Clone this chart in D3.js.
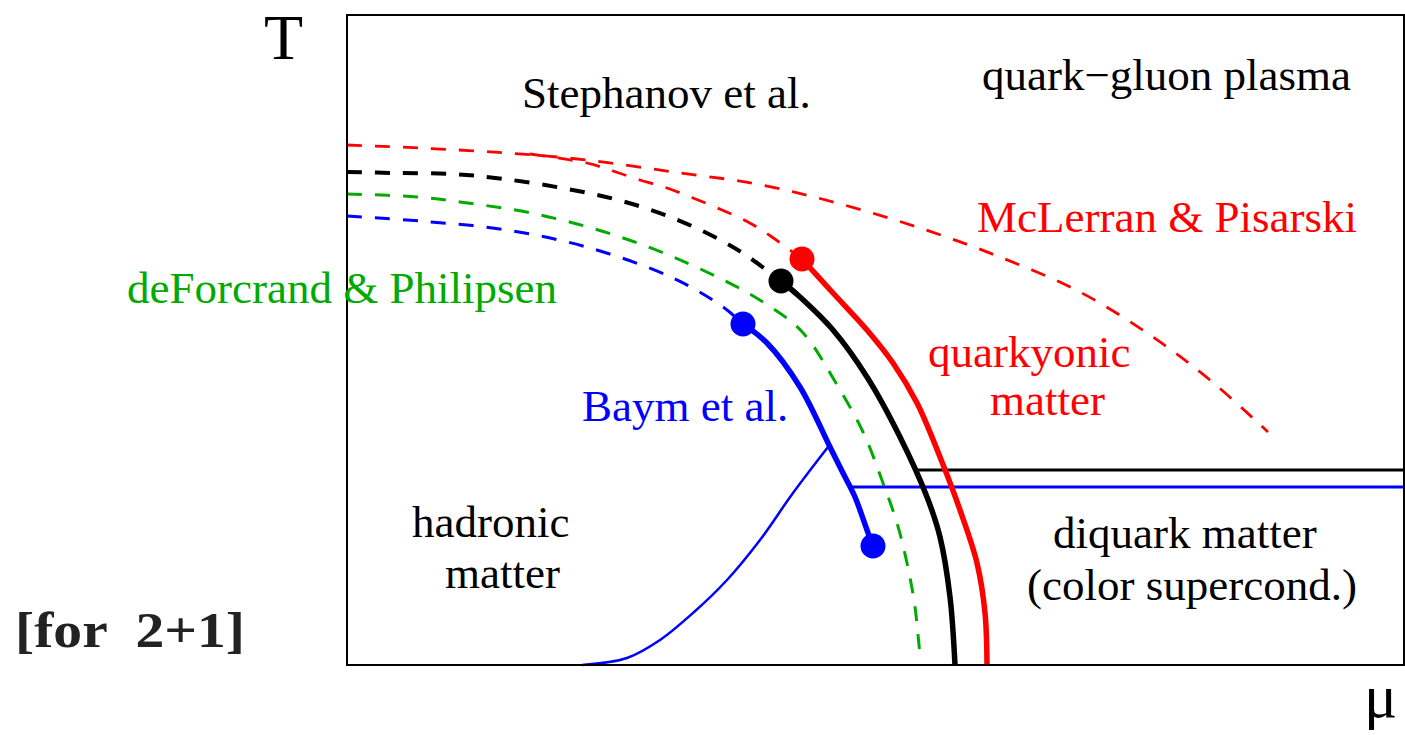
<!DOCTYPE html>
<html>
<head>
<meta charset="utf-8">
<script src="https://cdn.jsdelivr.net/npm/d3@7"></script>
<style>
  html, body { margin: 0; padding: 0; background: #fff; }
  svg { display: block; }
  text { font-family: "Liberation Serif", "Times New Roman", serif; }
</style>
</head>
<body>
<svg id="chart" width="1405" height="735"></svg>
<script>
// Schematic QCD phase diagram: T versus μ (arbitrary units).
const muDomain = [0, 105.7];
const tDomain = [0, 65];

// Crossover / first-order boundaries, each as [μ, T] pairs
const redDashOuter = [[0,52.0],[7.3,51.7],[16.0,51.2],[24.0,50.5],[32.6,49.3],[41.0,48.1],[49.0,46.2],[57.3,43.7],[65.3,40.8],[73.3,37.3],[80.3,33.0],[86.3,28.5],[92.1,23.3]];
const redDashInner = [[18.3,51.1],[24.0,50.2],[26.6,49.4],[29.3,48.5],[32.0,47.7],[34.6,46.7],[37.5,45.5],[40.1,44.3],[42.5,42.8],[45.5,40.6]];
const blackDash = [[0,49.3],[4.9,49.2],[10.6,49.1],[15.7,48.6],[21.5,47.7],[27.1,46.5],[32.6,44.7],[37.9,42.2],[40.3,40.7],[43.4,38.4]];
const greenDash = [[0,47.1],[7.0,46.8],[12.8,46.1],[18.4,45.2],[24.1,43.8],[29.6,42.0],[34.9,39.8],[40.1,37.2],[44.6,34.2],[46.2,32.5],[48.6,28.7],[51.6,23.3],[53.6,18.2],[55.0,14.2],[56.0,10.2],[56.8,5.8],[57.3,1.2],[57.4,0.8]];
const blueDash = [[0,44.9],[7.3,44.4],[16.0,43.5],[24.3,41.7],[32.6,38.7],[37.6,35.8],[39.6,34.1]];

const blueSolid = [[39.6,34.1],[42.0,32.2],[45.3,27.8],[48.3,21.8],[49.6,19.2],[50.8,16.8],[52.0,13.5],[52.6,11.9]];
const blackSolid = [[43.4,38.4],[45.3,36.8],[48.6,33.5],[52.0,28.8],[55.3,22.8],[58.0,16.8],[59.3,12.8],[60.3,6.8],[60.8,0]];
const redSolid = [[45.5,40.6],[48.6,37.2],[52.0,33.5],[54.6,30.2],[57.0,26.2],[59.3,20.8],[61.3,15.5],[63.0,10.2],[63.8,5.2],[64.0,0]];
const hadronCurve = [[23.5,0],[28.0,0.7],[31.3,2.5],[34.6,5.2],[38.0,8.5],[41.3,12.5],[44.6,17.2],[48.1,21.8]];

// Superconducting phase boundaries (horizontal)
const blackLevel = [[56.8,19.5],[105.7,19.5]];
const blueLevel = [[50.3,17.8],[105.7,17.8]];

// Critical end points
const critPoints = [
  {mu: 45.5, t: 40.6, color: "#ff0000"},
  {mu: 43.4, t: 38.4, color: "#000000"},
  {mu: 39.6, t: 34.1, color: "#0000ff"},
  {mu: 52.6, t: 11.9, color: "#0000ff"}
];

// Region and author labels
const labels = [
  {text: "Stephanov et al.", mu: 17.5, t: 55.7, color: "#000"},
  {text: "quark\u2212gluon plasma", mu: 63.5, t: 57.5, color: "#000"},
  {text: "McLerran & Pisarski", mu: 63.0, t: 43.3, color: "#ff0000"},
  {text: "deForcrand & Philipsen", mu: -22.0, t: 36.2, color: "#00aa00"},
  {text: "Baym et al.", mu: 23.5, t: 24.4, color: "#0000ff"},
  {text: "quarkyonic", mu: 58.1, t: 29.8, color: "#ff0000"},
  {text: "matter", mu: 64.3, t: 25.0, color: "#ff0000"},
  {text: "hadronic", mu: 6.5, t: 12.8, color: "#000"},
  {text: "matter", mu: 9.8, t: 7.7, color: "#000"},
  {text: "diquark matter", mu: 70.6, t: 11.7, color: "#000"},
  {text: "(color supercond.)", mu: 68.0, t: 6.5, color: "#000"}
];

const svg = d3.select("#chart");
const plot = {left: 347, top: 15, right: 1404, bottom: 665};

const x = d3.scaleLinear().domain(muDomain).range([plot.left, plot.right]);
const y = d3.scaleLinear().domain(tDomain).range([plot.bottom, plot.top]);

const curve = d3.line().x(d => x(d[0])).y(d => y(d[1])).curve(d3.curveCatmullRom.alpha(0.5));
const straight = d3.line().x(d => x(d[0])).y(d => y(d[1]));

const g = svg.append("g");

// dashed boundaries
const dashed = [
  {data: redDashOuter, color: "#ff0000", w: 2.8},
  {data: redDashInner, color: "#ff0000", w: 2.8},
  {data: blackDash, color: "#000000", w: 4},
  {data: greenDash, color: "#00aa00", w: 3},
  {data: blueDash, color: "#0000ff", w: 3}
];
dashed.forEach(s => {
  g.append("path").attr("d", curve(s.data))
    .attr("fill", "none").attr("stroke", s.color)
    .attr("stroke-width", s.w).attr("stroke-dasharray", "15,13");
});

// horizontal phase lines
g.append("path").attr("d", straight(blackLevel)).attr("fill", "none")
  .attr("stroke", "#000").attr("stroke-width", 3);
g.append("path").attr("d", straight(blueLevel)).attr("fill", "none")
  .attr("stroke", "#0000ff").attr("stroke-width", 3);

// thin hadronic boundary
g.append("path").attr("d", curve(hadronCurve)).attr("fill", "none")
  .attr("stroke", "#0000ff").attr("stroke-width", 2.5);

// first-order lines
[{data: blueSolid, color: "#0000ff"}, {data: blackSolid, color: "#000000"}, {data: redSolid, color: "#ff0000"}]
  .forEach(s => {
    g.append("path").attr("d", curve(s.data)).attr("fill", "none")
      .attr("stroke", s.color).attr("stroke-width", 5.5);
  });

// critical points
g.selectAll("circle.cp").data(critPoints).join("circle")
  .attr("class", "cp")
  .attr("cx", d => x(d.mu)).attr("cy", d => y(d.t)).attr("r", 12.5)
  .attr("fill", d => d.color);

// frame
svg.append("rect")
  .attr("x", plot.left).attr("y", plot.top)
  .attr("width", plot.right - plot.left).attr("height", plot.bottom - plot.top)
  .attr("fill", "none").attr("stroke", "#000").attr("stroke-width", 2);

// labels
svg.selectAll("text.lbl").data(labels).join("text")
  .attr("class", "lbl")
  .attr("x", d => x(d.mu)).attr("y", d => y(d.t))
  .attr("font-size", 45)
  .attr("fill", d => d.color)
  .text(d => d.text);

// axis titles
svg.append("text").attr("x", 264).attr("y", 59).attr("font-size", 64).attr("fill", "#000").text("T");
svg.append("text").attr("x", 1364).attr("y", 717).attr("font-size", 62).attr("fill", "#000").text("\u03bc");
svg.append("text").attr("x", 15).attr("y", 647).attr("font-size", 50).attr("font-weight", "bold")
  .attr("fill", "#222").attr("textLength", 230).attr("lengthAdjust", "spacingAndGlyphs")
  .attr("xml:space", "preserve").text("[for  2+1]");
</script>
</body>
</html>
